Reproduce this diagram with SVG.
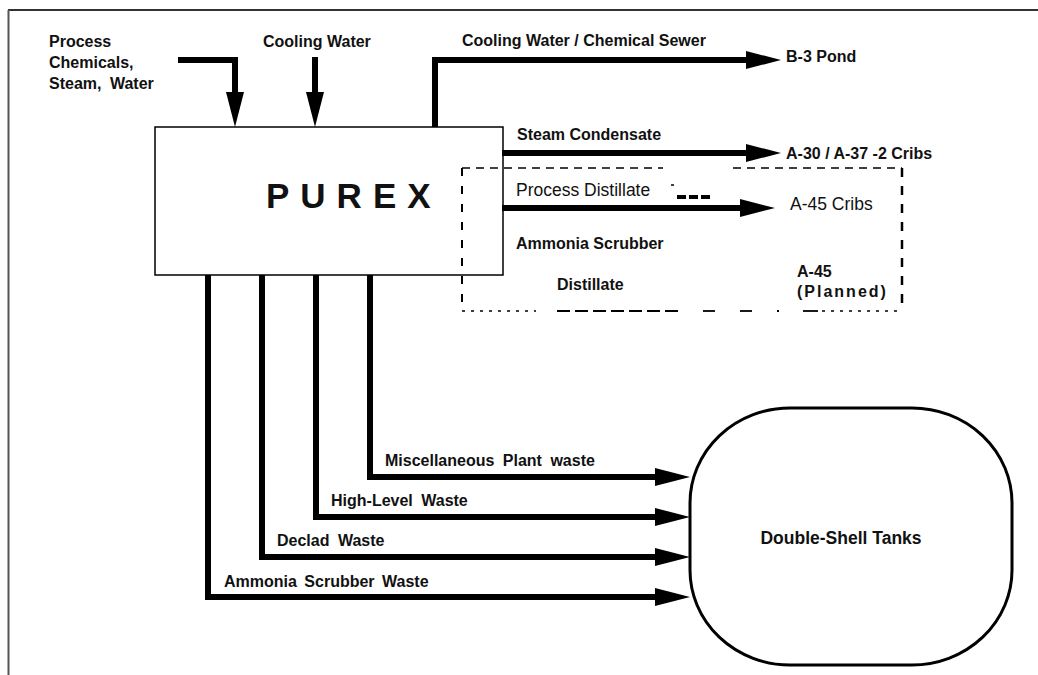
<svg xmlns="http://www.w3.org/2000/svg" width="1038" height="675" viewBox="0 0 1038 675">
<style>
text{font-family:"Liberation Sans",Arial,Helvetica,sans-serif;fill:#111}
.b{font-weight:bold;font-size:16px}
.w{word-spacing:4px}
.r{font-size:17.5px}
.flow{fill:none;stroke:#000;stroke-width:6;stroke-linejoin:miter;stroke-linecap:butt}
.dash{fill:none;stroke:#000}
</style>
<defs>
<marker id="ah" markerUnits="userSpaceOnUse" markerWidth="36" markerHeight="18" refX="0" refY="9" orient="auto" overflow="visible">
<path d="M0,0 L35,9 L0,18 Z" fill="#000"/>
</marker>
</defs>
<rect width="1038" height="675" fill="#fff"/>
<g id="frame">
<line x1="8" y1="10" x2="1038" y2="10" stroke="#333" stroke-width="2"/>
<line x1="8.5" y1="10" x2="8.5" y2="675" stroke="#555" stroke-width="2"/>
</g>
<g id="inputs">
<text class="b" x="49" y="47">Process</text>
<text class="b" x="49" y="68">Chemicals,</text>
<text class="b w" x="49" y="89">Steam, Water</text>
<text class="b" x="263" y="47">Cooling Water</text>
</g>
<g id="purex">
<rect x="155" y="127" width="348" height="148" fill="#fff" stroke="#000" stroke-width="1.5"/>
<text x="266" y="208" font-size="35" font-weight="bold" letter-spacing="11">PUREX</text>
</g>
<g id="a45-planned">
<line class="dash" x1="462" y1="168" x2="663" y2="168" stroke-width="1.5" stroke-dasharray="8 6"/>
<line class="dash" x1="733" y1="168" x2="902" y2="168" stroke-width="1.5" stroke-dasharray="8 6"/>
<line class="dash" x1="462" y1="168" x2="462" y2="312" stroke-width="2" stroke-dasharray="8 10"/>
<line class="dash" x1="902" y1="168" x2="902" y2="312" stroke-width="2.5" stroke-dasharray="9 9"/>
<line class="dash" x1="462" y1="311" x2="536" y2="311" stroke-width="1.5" stroke-dasharray="3 6"/>
<line class="dash" x1="557" y1="311" x2="680" y2="311" stroke-width="1.8" stroke-dasharray="13 5"/>
<line class="dash" x1="703" y1="311" x2="715" y2="311" stroke-width="1.8"/>
<line class="dash" x1="740" y1="311" x2="752" y2="311" stroke-width="1.8"/>
<line class="dash" x1="777" y1="311" x2="779" y2="311" stroke-width="1.8"/>
<line class="dash" x1="803" y1="311" x2="818" y2="311" stroke-width="1.8"/>
<line class="dash" x1="822" y1="311" x2="902" y2="311" stroke-width="1.5" stroke-dasharray="3 6"/>
<line class="dash" x1="671" y1="185" x2="674" y2="185" stroke-width="1.5"/>
<line class="dash" x1="677" y1="197" x2="712" y2="197" stroke-width="4" stroke-dasharray="9 3"/>
<text class="r" x="516" y="196">Process Distillate</text>
<text class="r" x="790" y="210">A-45 Cribs</text>
<text class="b" x="516" y="249">Ammonia Scrubber</text>
<text class="b" x="557" y="290">Distillate</text>
<text class="b" x="797" y="277">A-45</text>
<text class="b" x="797" y="297" letter-spacing="2">(Planned)</text>
</g>
<g id="outputs">
<text class="b" x="462" y="46">Cooling Water / Chemical Sewer</text>
<text class="b" x="786" y="62">B-3 Pond</text>
<text class="b" x="517" y="140">Steam Condensate</text>
<text class="b" x="786" y="159">A-30 / A-37 -2 Cribs</text>
</g>
<g id="connectors">
<path class="flow" d="M178,60 H235 V92" marker-end="url(#ah)"/>
<path class="flow" d="M315,57 V92" marker-end="url(#ah)"/>
<path class="flow" d="M435,127 V60 H746" marker-end="url(#ah)"/>
<path class="flow" d="M502,153 H746" marker-end="url(#ah)"/>
<path class="flow" d="M502,208 H740" marker-end="url(#ah)"/>
<path class="flow" d="M370,275 V477 H655" marker-end="url(#ah)"/>
<path class="flow" d="M316,275 V517 H655" marker-end="url(#ah)"/>
<path class="flow" d="M262,275 V557 H655" marker-end="url(#ah)"/>
<path class="flow" d="M208,275 V597 H655" marker-end="url(#ah)"/>
</g>
<g id="waste-labels">
<text class="b w" x="385" y="466">Miscellaneous Plant waste</text>
<text class="b w" x="331" y="506">High-Level Waste</text>
<text class="b w" x="277" y="546">Declad Waste</text>
<text class="b" x="224" y="587" word-spacing="3">Ammonia Scrubber Waste</text>
</g>
<g id="double-shell-tanks">
<rect x="690" y="408" width="322" height="257" rx="100" ry="95" fill="none" stroke="#000" stroke-width="3"/>
<text x="841" y="544" font-size="17.5" font-weight="bold" text-anchor="middle">Double-Shell Tanks</text>
</g>
</svg>
